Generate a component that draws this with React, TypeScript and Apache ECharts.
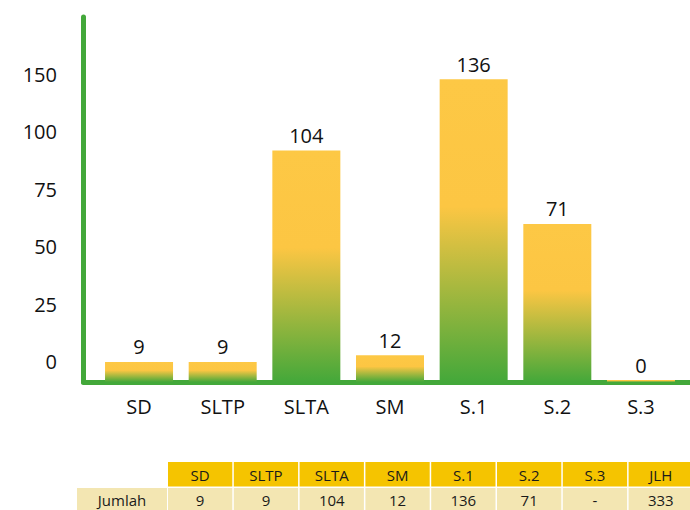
import React, { useEffect, useRef } from "react";
import * as echarts from "echarts";

const categories = ["SD", "SLTP", "SLTA", "SM", "S.1", "S.2", "S.3"];
const values = [9, 9, 104, 12, 136, 71, 0];
const yTickLabels = ["0", "25", "50", "75", "100", "150"];
const tableHeaders = ["SD", "SLTP", "SLTA", "SM", "S.1", "S.2", "S.3", "JLH"];
const tableRowLabel = "Jumlah";
const tableValues = ["9", "9", "104", "12", "136", "71", "-", "333"];

const FONT = "'Open Sans', 'Noto Sans', sans-serif";
const GREEN = "#43a83a";

export default function App() {
  const ref = useRef<HTMLDivElement>(null);
  useEffect(() => {
    document.body.style.margin = "0";
    const chart = echarts.init(ref.current!, null, { renderer: "svg" });

    const cellX0 = 168;
    const cellW = 65.8;
    const graphics: any[] = [];
    tableHeaders.forEach((h, i) => {
      const x = cellX0 + i * cellW;
      graphics.push({
        type: "rect",
        shape: { x, y: 462, width: cellW - 1.5, height: 24.5 },
        style: { fill: "#f5c400" },
      });
      graphics.push({
        type: "text",
        style: {
          x: x + (cellW - 1.5) / 2, y: 474.5, text: h, fill: "#1a1a1a",
          font: `15px ${FONT}`, align: "center", verticalAlign: "middle",
        },
      });
      graphics.push({
        type: "rect",
        shape: { x, y: 488, width: cellW - 1.5, height: 24 },
        style: { fill: "#f3e6b2" },
      });
      graphics.push({
        type: "text",
        style: {
          x: x + (cellW - 1.5) / 2, y: 500, text: tableValues[i], fill: "#1a1a1a",
          font: `15px ${FONT}`, align: "center", verticalAlign: "middle",
        },
      });
    });
    graphics.push({
      type: "rect",
      shape: { x: 77, y: 488, width: 90, height: 24 },
      style: { fill: "#f3e6b2" },
    });
    graphics.push({
      type: "text",
      style: {
        x: 122, y: 500, text: tableRowLabel, fill: "#1a1a1a",
        font: `15px ${FONT}`, align: "center", verticalAlign: "middle",
      },
    });

    chart.setOption({
      animation: false,
      textStyle: { fontFamily: FONT },
      grid: [
        { left: 83.5, right: 0, top: 17, bottom: 128 },
        { left: 97.2, right: 7.2, top: 17, bottom: 128 },
        { left: 65, width: 10, top: 74.5, bottom: 148.5 },
      ],
      xAxis: [
        {
          gridIndex: 0, type: "value", min: 0, max: 1,
          axisLine: { show: true, lineStyle: { color: GREEN, width: 5, cap: "round" } },
          axisTick: { show: false }, axisLabel: { show: false }, splitLine: { show: false },
        },
        {
          gridIndex: 1, type: "category", data: categories,
          axisLine: { show: false }, axisTick: { show: false },
          axisLabel: { color: "#111", fontSize: 20, margin: 14, fontFamily: FONT },
        },
        { gridIndex: 2, type: "value", min: 0, max: 1, show: false },
      ],
      yAxis: [
        {
          gridIndex: 0, type: "value", min: 0, max: 1,
          axisLine: { show: true, lineStyle: { color: GREEN, width: 5, cap: "round" } },
          axisTick: { show: false }, axisLabel: { show: false }, splitLine: { show: false },
        },
        {
          gridIndex: 1, type: "value", min: 0, max: 164, show: false,
          splitLine: { show: false },
        },
        {
          gridIndex: 2, type: "category", data: yTickLabels, boundaryGap: false,
          axisLine: { show: false }, axisTick: { show: false }, splitLine: { show: false },
          axisLabel: { color: "#111", fontSize: 20, margin: 8, interval: 0, fontFamily: FONT },
        },
      ],
      series: [
        {
          type: "bar",
          xAxisIndex: 1,
          yAxisIndex: 1,
          data: values,
          barWidth: 68,
          barMinHeight: 2,
          itemStyle: {
            color: new echarts.graphic.LinearGradient(0, 0, 0, 1, [
              { offset: 0, color: "#fdc845" },
              { offset: 0.42, color: "#fcc643" },
              { offset: 1, color: "#44a83a" },
            ]),
          },
          label: {
            show: true, position: "top", distance: 5,
            color: "#111", fontSize: 20, fontFamily: FONT,
          },
        },
      ],
      graphic: graphics,
    });
    return () => chart.dispose();
  }, []);
  return (
    <div
      ref={ref}
      style={{ width: 690, height: 510, position: "absolute", left: 0, top: 0 }}
    />
  );
}
